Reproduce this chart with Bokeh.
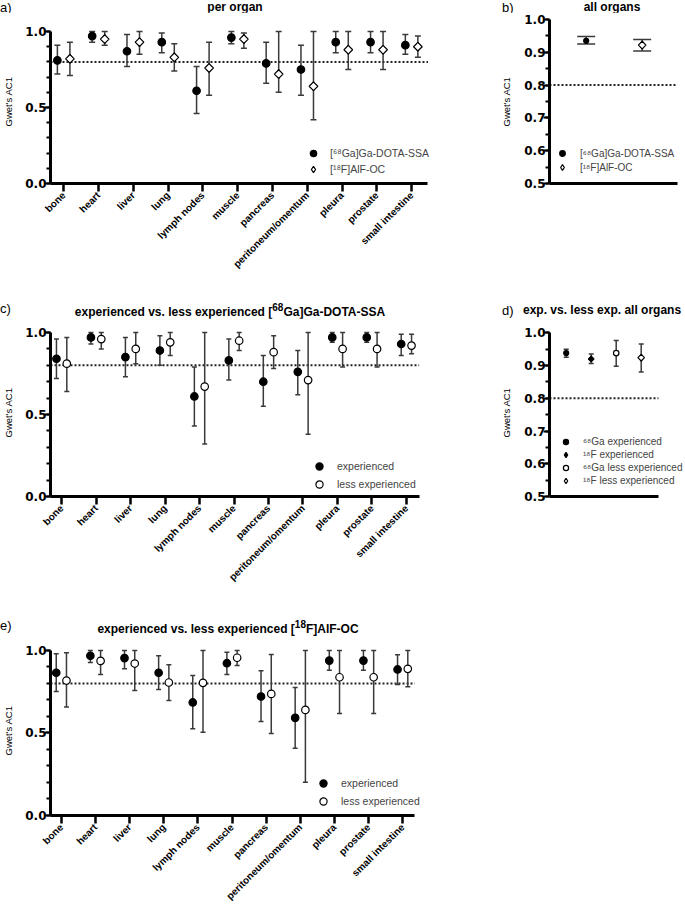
import math

from bokeh.embed import file_html
from bokeh.layouts import column, row
from bokeh.models import (ColumnDataSource, Div, FixedTicker, Legend, LegendItem,
                          PrintfTickFormatter, Range1d, SingleIntervalTicker)
from bokeh.plotting import figure
from bokeh.resources import INLINE
from bokeh.transform import dodge

organs = ["bone", "heart", "liver", "lung", "lymph nodes", "muscle", "pancreas",
          "peritoneum/omentum", "pleura", "prostate", "small intestine"]
threshold = 0.8

# a) per organ
ga_ac1 = [0.81, 0.97, 0.87, 0.93, 0.61, 0.96, 0.79, 0.75, 0.93, 0.93, 0.91]
ga_lo = [0.72, 0.93, 0.77, 0.86, 0.46, 0.92, 0.66, 0.58, 0.86, 0.86, 0.85]
ga_hi = [0.91, 1.00, 0.98, 0.99, 0.77, 1.00, 0.93, 0.91, 1.00, 1.00, 0.98]
f_ac1 = [0.82, 0.95, 0.93, 0.83, 0.76, 0.95, 0.72, 0.64, 0.88, 0.88, 0.90]
f_lo = [0.71, 0.91, 0.85, 0.74, 0.58, 0.89, 0.60, 0.42, 0.75, 0.75, 0.83]
f_hi = [0.93, 1.00, 1.00, 0.92, 0.93, 0.99, 1.00, 1.00, 1.00, 1.00, 0.97]

# b) all organs
tracers = ["[⁶⁸Ga]Ga-DOTA-SSA", "[¹⁸F]AlF-OC"]
all_ac1 = [0.935, 0.922]
all_lo = [0.925, 0.904]
all_hi = [0.948, 0.939]

# c) experienced vs. less experienced, Ga
c_exp = [0.84, 0.97, 0.85, 0.89, 0.61, 0.83, 0.70, 0.76, 0.97, 0.97, 0.93]
c_exp_lo = [0.72, 0.93, 0.73, 0.80, 0.43, 0.71, 0.55, 0.62, 0.94, 0.94, 0.86]
c_exp_hi = [0.96, 1.00, 0.97, 0.98, 0.79, 0.96, 0.86, 0.89, 1.00, 1.00, 0.99]
c_less = [0.81, 0.96, 0.90, 0.94, 0.67, 0.95, 0.88, 0.71, 0.90, 0.90, 0.92]
c_less_lo = [0.64, 0.90, 0.81, 0.86, 0.32, 0.89, 0.78, 0.38, 0.79, 0.79, 0.87]
c_less_hi = [0.97, 1.00, 1.00, 1.00, 1.00, 1.00, 0.98, 1.00, 1.00, 1.00, 0.99]

# d) exp. vs. less exp. all organs
d_labels = ["⁶⁸Ga experienced", "¹⁸F experienced", "⁶⁸Ga less experienced", "¹⁸F less experienced"]
d_ac1 = [0.938, 0.920, 0.938, 0.924]
d_lo = [0.925, 0.906, 0.898, 0.880]
d_hi = [0.950, 0.935, 0.976, 0.966]

# e) experienced vs. less experienced, F
e_exp = [0.865, 0.968, 0.954, 0.865, 0.685, 0.923, 0.721, 0.592, 0.939, 0.939, 0.885]
e_exp_lo = [0.752, 0.927, 0.889, 0.764, 0.525, 0.855, 0.570, 0.408, 0.881, 0.881, 0.794]
e_exp_hi = [0.980, 1.00, 1.00, 0.968, 0.848, 0.990, 0.877, 0.776, 1.00, 1.00, 0.974]
e_less = [0.818, 0.937, 0.921, 0.806, 0.804, 0.956, 0.737, 0.640, 0.838, 0.838, 0.889]
e_less_lo = [0.657, 0.855, 0.758, 0.697, 0.505, 0.909, 0.497, 0.202, 0.618, 0.618, 0.780]
e_less_hi = [0.986, 1.00, 1.00, 0.913, 1.00, 1.00, 0.976, 1.00, 1.00, 1.00, 1.00]

FONT = "Liberation Sans"
BAR = "#3a3a3a"


def make_fig(width, height, left, top, bottom, x_range, y_range, x_end):
    # frame runs to the right edge so legends are not clipped; axis line is bounded
    p = figure(width=width, height=height, x_range=x_range, y_range=y_range, title=None,
               min_border_left=left, min_border_right=0, min_border_top=top,
               min_border_bottom=bottom, toolbar_location=None, output_backend="svg")
    p.outline_line_color = None
    p.grid.visible = False
    p.background_fill_color = "white"
    p.border_fill_color = "white"
    p.xaxis[0].bounds = (x_range.start, x_end)
    p.segment(x0=[x_range.start], y0=[threshold], x1=[x_end], y1=[threshold],
              line_dash="2 2", line_width=2, line_color="#222222")
    return p


def style_y(p, interval, minor, lo, hi, label_standoff):
    ax = p.yaxis[0]
    ax.ticker = SingleIntervalTicker(interval=interval, num_minor_ticks=minor)
    ax.formatter = PrintfTickFormatter(format="%.1f")
    ax.bounds = (lo, hi)
    ax.axis_line_width = 3
    ax.axis_line_color = "black"
    ax.major_tick_line_width = 2
    ax.minor_tick_line_width = 2
    ax.major_tick_out = 6
    ax.major_tick_in = 0
    ax.minor_tick_out = 4
    ax.minor_tick_in = 0
    ax.major_label_text_font = "DejaVu Sans"
    ax.major_label_text_font_style = "bold"
    ax.major_label_text_font_size = "12px"
    ax.major_label_text_color = "black"
    ax.major_label_standoff = -2
    ax.axis_label = "Gwet's AC1"
    ax.axis_label_text_font = FONT
    ax.axis_label_text_font_style = "normal"
    ax.axis_label_text_font_size = "9.5px"
    ax.axis_label_text_color = "black"
    ax.axis_label_standoff = label_standoff


def style_x(p, names):
    ax = p.xaxis[0]
    ax.axis_line_width = 3
    ax.axis_line_color = "black"
    ax.minor_tick_line_color = None
    if names:
        ax.ticker = FixedTicker(ticks=list(range(len(names))))
        ax.major_label_overrides = {i: n for i, n in enumerate(names)}
        ax.major_label_orientation = math.pi / 4
        ax.major_tick_line_width = 2.5
        ax.major_tick_out = 8
        ax.major_tick_in = 0
        ax.major_label_text_font = FONT
        ax.major_label_text_font_style = "bold"
        ax.major_label_text_font_size = "10px"
        ax.major_label_text_color = "black"
        ax.major_label_standoff = 2
    else:
        ax.ticker = FixedTicker(ticks=[])
        ax.major_tick_line_color = None
        ax.major_label_text_font_size = "0px"


def errorbars(p, src, x, lo, hi, cap):
    p.segment(x0=x, y0=lo, x1=x, y1=hi, source=src, line_color=BAR, line_width=1.5)
    p.scatter(x=x, y=hi, source=src, marker="dash", size=cap, line_color=BAR, line_width=1.5)
    p.scatter(x=x, y=lo, source=src, marker="dash", size=cap, line_color=BAR, line_width=1.5)


def points(p, src, x, y, kind, size):
    # returns the renderer the legend should show
    fill = "white" if kind in ("ring", "open_diamond") else "black"
    if "diamond" in kind:
        # narrow diamond hidden under the rotated square: it gives the legend a diamond glyph
        key = p.scatter(x=x, y=y, source=src, marker="diamond", size=size,
                        fill_color=fill, line_color="black", line_width=1.2)
        p.scatter(x=x, y=y, source=src, marker="square", angle=math.pi / 4, size=size * 0.72,
                  fill_color=fill, line_color="black", line_width=1.2)
        return key
    return p.scatter(x=x, y=y, source=src, marker="circle", size=size,
                     fill_color=fill, line_color="black", line_width=1.2)


def legend(p, items, loc, glyph, spacing, standoff, size="10.5px"):
    leg = Legend(items=[LegendItem(label=t, renderers=[r]) for t, r in items],
                 location=loc, orientation="vertical", glyph_width=glyph, glyph_height=glyph,
                 spacing=spacing, label_standoff=standoff, padding=0, margin=0,
                 label_height=8, border_line_color=None, background_fill_alpha=0,
                 label_text_font=FONT, label_text_font_size=size)
    p.add_layout(leg)


def strip(width, height, items):
    # title line above a row of panels: (html, x, y_centre, size, bold, centred)
    spans = []
    for html, x, y, size, bold, centred in items:
        shift = "transform:translateX(-50%);" if centred else ""
        spans.append(
            f'<span style="position:absolute;left:{x}px;top:{y - size * 0.5:.1f}px;'
            f'font-size:{size}px;line-height:{size}px;'
            f'font-weight:{"bold" if bold else "normal"};white-space:nowrap;{shift}">{html}</span>')
    html = (f'<div style="position:relative;width:{width}px;height:{height}px;'
            f'font-family:\'{FONT}\';color:black;">' + "".join(spans) + "</div>")
    return Div(text=html, width=width, height=height, margin=0)


def organ_panel(height, left, top, bottom, x_range, x_end, y_end,
                s1, s2, lo1, hi1, lo2, hi2, k1, k2, off, cap, size1, size2):
    p = make_fig(480, height, left, top, bottom, x_range, Range1d(0, y_end), x_end)
    style_y(p, 0.5, 5, 0, 1, 8)
    style_x(p, organs)
    src = ColumnDataSource(dict(pos=list(range(len(organs))), s1=s1, s2=s2,
                                lo1=lo1, hi1=hi1, lo2=lo2, hi2=hi2))
    x1 = dodge("pos", -off)
    x2 = dodge("pos", off)
    errorbars(p, src, x1, "lo1", "hi1", cap)
    errorbars(p, src, x2, "lo2", "hi2", cap)
    r1 = points(p, src, x1, "s1", k1, size1)
    r2 = points(p, src, x2, "s2", k2, size2)
    return p, r1, r2


# a)
pa, ra1, ra2 = organ_panel(278, 45, 7, 107, Range1d(-0.378, 11.98), 10.47, 1.079,
                           ga_ac1, f_ac1, ga_lo, ga_hi, f_lo, f_hi,
                           "dot", "open_diamond", 0.18, 6, 7.5, 8.5)
legend(pa, [(tracers[0], ra1), (tracers[1], ra2)], (255, 6), 16, -2, 9)

# b)
pb = make_fig(204, 278, 69, 7, 107, Range1d(-0.655, 1.756), Range1d(0.5, 1.0), 1.63)
style_y(pb, 0.1, 2, 0.5, 1.0, 9)
style_x(pb, None)
src_b = ColumnDataSource(dict(pos=[0, 1], ac1=all_ac1, lo=all_lo, hi=all_hi))
errorbars(pb, src_b, "pos", "lo", "hi", 18)
src_b0 = ColumnDataSource(dict(pos=[0], ac1=all_ac1[:1]))
src_b1 = ColumnDataSource(dict(pos=[1], ac1=all_ac1[1:]))
rb1 = points(pb, src_b0, "pos", "ac1", "dot", 5)
rb2 = points(pb, src_b1, "pos", "ac1", "open_diamond", 7.5)
legend(pb, [(tracers[0], rb1), (tracers[1], rb2)], (6, 9), 14, -1, 11, "10px")

# c)
pc, rc1, rc2 = organ_panel(282, 44, 10, 104, Range1d(-0.323, 12.15), 10.37, 1.0244,
                           c_exp, c_less, c_exp_lo, c_exp_hi, c_less_lo, c_less_hi,
                           "dot", "ring", 0.15, 5, 7.5, 7.5)
legend(pc, [("experienced", rc1), ("less experienced", rc2)], (260, 3), 18, -5, 9)

# d)
pd = make_fig(204, 282, 69, 10, 104, Range1d(-0.668, 4.732), Range1d(0.5, 1.013), 3.69)
style_y(pd, 0.1, 2, 0.5, 1.0, 9)
style_x(pd, None)
src_d = ColumnDataSource(dict(pos=[0, 1, 2, 3], ac1=d_ac1, lo=d_lo, hi=d_hi))
errorbars(pd, src_d, "pos", "lo", "hi", 5)
d_kinds = ["dot", "diamond", "ring", "open_diamond"]
d_sizes = [5, 5.5, 5.5, 6.5]
d_items = []
for i in range(4):
    s = ColumnDataSource(dict(pos=[i], ac1=[d_ac1[i]]))
    d_items.append((d_labels[i], points(pd, s, "pos", "ac1", d_kinds[i], d_sizes[i])))
legend(pd, d_items, (10, 9), 13, 0, 11, "10px")

# e)
pe, re1, re2 = organ_panel(268, 44, 5, 93, Range1d(-0.318, 12.28), 10.355, 1.0303,
                           e_exp, e_less, e_exp_lo, e_exp_hi, e_less_lo, e_less_hi,
                           "dot", "ring", 0.15, 5, 7.5, 7.5)
legend(pe, [("experienced", re1), ("less experienced", re2)], (264, 5), 18, -4, 9)

t1 = strip(684, 12, [("a)", 0, 7, 13, False, False),
                     ("per organ", 235, 6.5, 12, True, True),
                     ("b)", 502, 7, 13, False, False),
                     ("all organs", 612, 6.5, 12, True, True)])
t2 = strip(684, 28, [("c)", 0, 18, 13, False, False),
                     ("experienced vs. less experienced [<sup>68</sup>Ga]Ga-DOTA-SSA", 230, 18, 12, True, True),
                     ("d)", 502, 20, 13, False, False),
                     ("exp. vs. less exp. all organs", 523, 20, 12, True, False)])
t3 = strip(684, 40, [("e)", 0, 25, 13, False, False),
                     ("experienced vs. less experienced [<sup>18</sup>F]AlF-OC", 228, 25, 12, True, True)])

layout = column(t1, row(pa, pb), t2, row(pc, pd), t3, pe)
open("out.html", "w").write(file_html(layout, INLINE))
